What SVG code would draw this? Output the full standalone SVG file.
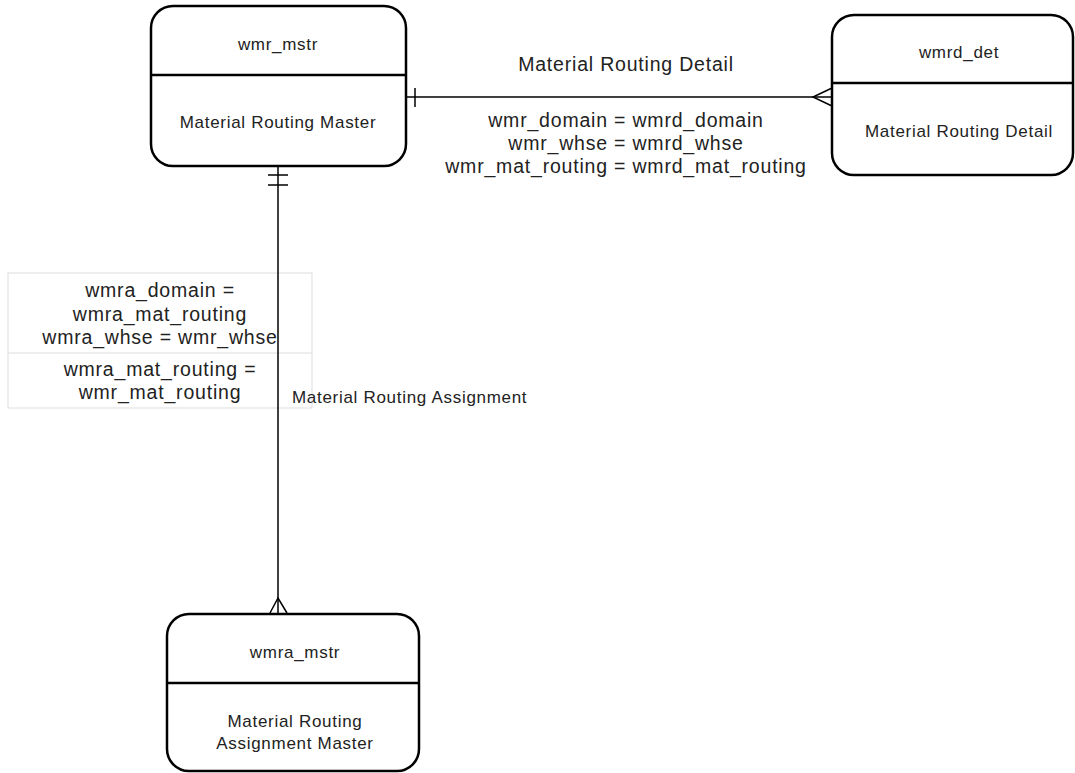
<svg xmlns="http://www.w3.org/2000/svg" width="1075" height="773" viewBox="0 0 1075 773">
  <style>
    .box { fill: #ffffff; stroke: #000000; stroke-width: 2.5; }
    .sep { stroke: #000000; stroke-width: 2.5; }
    .link { fill: none; stroke: #000000; stroke-width: 1.5; }
    .node-text { font-family: "Liberation Sans", Arial, sans-serif; font-size: 17px; letter-spacing: 0.7px; fill: #222222; text-anchor: middle; }
    .edge-text { font-family: "Liberation Sans", Arial, sans-serif; font-size: 19.5px; letter-spacing: 0.8px; fill: #222222; text-anchor: middle; }
    .edge-small { font-family: "Liberation Sans", Arial, sans-serif; font-size: 17px; letter-spacing: 0.7px; fill: #222222; }
    .label-box { fill: none; stroke: #dddddd; stroke-width: 1; }
  </style>

  <rect width="1075" height="773" fill="#ffffff"/>

  <!-- join condition panel for the assignment relationship -->
  <g id="assignment-keys">
    <rect class="label-box" x="8" y="273" width="304" height="135"/>
    <line class="label-box" x1="8" y1="353" x2="312" y2="353"/>
    <text class="edge-text" x="160" y="297">wmra_domain =</text>
    <text class="edge-text" x="160" y="321">wmra_mat_routing</text>
    <text class="edge-text" x="160" y="344">wmra_whse = wmr_whse</text>
    <text class="edge-text" x="160" y="376">wmra_mat_routing =</text>
    <text class="edge-text" x="160" y="399">wmr_mat_routing</text>
  </g>

  <!-- relationships -->
  <g id="connectors">
    <!-- wmr_mstr (one) to wmrd_det (many) -->
    <line class="link" x1="406" y1="97" x2="832" y2="97"/>
    <line class="link" x1="415" y1="88" x2="415" y2="107"/>
    <polyline class="link" points="832,88 813,97 832,106"/>
    <text class="edge-text" x="626" y="71">Material Routing Detail</text>
    <text class="edge-text" x="626" y="127">wmr_domain = wmrd_domain</text>
    <text class="edge-text" x="626" y="150">wmr_whse = wmrd_whse</text>
    <text class="edge-text" x="626" y="173">wmr_mat_routing = wmrd_mat_routing</text>

    <!-- wmr_mstr (exactly one) to wmra_mstr (many) -->
    <line class="link" x1="278" y1="166" x2="278" y2="613"/>
    <line class="link" x1="268" y1="175" x2="288" y2="175"/>
    <line class="link" x1="268" y1="185" x2="288" y2="185"/>
    <polyline class="link" points="270,613 278,598 287,613"/>
    <text class="edge-small" x="292" y="403">Material Routing Assignment</text>
  </g>

  <g id="wmr_mstr">
    <rect class="box" x="151" y="6" width="255" height="160" rx="22" ry="22"/>
    <line class="sep" x1="151" y1="75" x2="406" y2="75"/>
    <text class="node-text" x="278" y="50">wmr_mstr</text>
    <text class="node-text" x="278" y="128">Material Routing Master</text>
  </g>

  <g id="wmrd_det">
    <rect class="box" x="832" y="15" width="241" height="160" rx="22" ry="22"/>
    <line class="sep" x1="832" y1="83" x2="1073" y2="83"/>
    <text class="node-text" x="959" y="58">wmrd_det</text>
    <text class="node-text" x="959" y="137">Material Routing Detail</text>
  </g>

  <g id="wmra_mstr">
    <rect class="box" x="167" y="614" width="252" height="157" rx="22" ry="22"/>
    <line class="sep" x1="167" y1="683" x2="419" y2="683"/>
    <text class="node-text" x="295" y="658">wmra_mstr</text>
    <text class="node-text" x="295" y="727">Material Routing</text>
    <text class="node-text" x="295" y="749">Assignment Master</text>
  </g>
</svg>
